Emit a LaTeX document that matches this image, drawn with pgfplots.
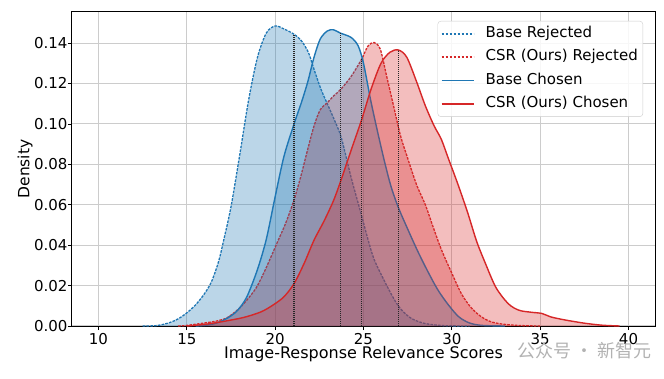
\documentclass[border=0pt]{standalone}
\usepackage{pgfplots}
\pgfplotsset{compat=1.18}
\usepackage{pgfplotstable}
\usepackage{fontspec}
\setmainfont{DejaVu Sans}
\newfontfamily\cjk{Noto Sans CJK SC}
\definecolor{tabblue}{HTML}{1F77B4}
\definecolor{tabred}{HTML}{D62728}

% Base Rejected
\pgfplotstableread{
x y
12.5 0
13.3 0.0002
14.0 0.0016
14.5 0.0035
15.0 0.0065
15.5 0.0105
16.0 0.016
16.4 0.022
16.8 0.032
17.1 0.043
17.5 0.059
18.0 0.085
18.5 0.112
19.0 0.133
19.5 0.145
20.0 0.1485
20.5 0.147
21.07 0.1444
21.5 0.141
21.9 0.135
22.2 0.127
22.6 0.117
23.0 0.109
23.4 0.101
23.75 0.093
24.3 0.0735
24.85 0.056
25.25 0.043
25.6 0.033
26.2 0.022
26.75 0.013
27.15 0.008
27.7 0.0038
28.45 0.0013
29.5 0.0002
31.0 0
}\brtable

% CSR Rejected
\pgfplotstableread{
x y
14.5 0
15.0 0.0003
16.0 0.0015
16.7 0.0025
17.3 0.0042
18.0 0.009
18.6 0.015
19.0 0.020
19.5 0.029
20.1 0.041
20.6 0.051
21.07 0.0625
21.45 0.074
21.83 0.087
22.2 0.099
22.55 0.107
22.95 0.1105
23.3 0.1138
23.7 0.117
24.3 0.1235
24.89 0.132
25.25 0.1385
25.6 0.1403
25.95 0.137
26.3 0.124
26.7 0.109
27.1 0.094
27.5 0.083
28.0 0.070
28.5 0.060
28.9 0.050
29.4 0.038
29.98 0.0265
30.54 0.016
31.1 0.009
31.68 0.0045
32.25 0.002
33.0 0.0008
34.0 0.0002
35.0 0
}\crtable

% Base Chosen
\pgfplotstableread{
x y
15.5 0
16.2 0.0005
16.7 0.0015
17.1 0.003
17.5 0.005
17.9 0.008
18.4 0.0145
19.0 0.028
19.5 0.043
20.0 0.064
20.5 0.084
21.07 0.100
21.5 0.111
21.85 0.121
22.2 0.133
22.55 0.142
22.95 0.146
23.3 0.1466
23.68 0.145
24.3 0.1428
24.7 0.1386
25.0 0.130
25.4 0.112
25.8 0.096
26.2 0.081
26.56 0.069
26.98 0.0585
27.5 0.048
28.07 0.037
28.64 0.027
29.2 0.018
29.8 0.0105
30.4 0.0045
31.0 0.0015
31.7 0.0003
33.0 0
}\bctable

% CSR Chosen
\pgfplotstableread{
x y
15.0 0
16.0 0.0008
16.9 0.002
18.2 0.0042
19.2 0.007
19.9 0.0105
20.5 0.0145
21.07 0.021
21.64 0.031
22.2 0.0425
22.77 0.052
23.3 0.062
23.7 0.0715
24.3 0.087
24.89 0.102
25.42 0.117
25.99 0.130
26.5 0.1355
26.98 0.1366
27.45 0.133
28.0 0.121
28.5 0.109
29.0 0.099
29.4 0.0925
29.8 0.083
30.35 0.070
30.9 0.056
31.4 0.042
31.9 0.031
32.5 0.019
33.2 0.011
33.8 0.0078
34.5 0.0068
35.1 0.0062
35.6 0.0045
36.4 0.003
37.5 0.0014
38.5 0.0004
39.5 0
}\cctable

\begin{document}
\begin{tikzpicture}
\path[use as bounding box] (0pt,0pt) rectangle (664pt,378pt);
\begin{axis}[
  at={(72pt,52pt)}, anchor=south west,
  scale only axis, width=583pt, height=314pt,
  xmin=8.5, xmax=41.5, ymin=0, ymax=0.1554,
  xtick={10,15,20,25,30,35,40},
  ytick={0,0.02,0.04,0.06,0.08,0.10,0.12,0.14},
  /pgf/number format/assume math mode=true,
  yticklabel style={/pgf/number format/.cd, fixed, fixed zerofill, precision=2, /tikz/.cd, xshift=3pt},
  scaled y ticks=false,
  tick label style={font=\fontsize{15}{18}\selectfont},
  xlabel={Image-Response Relevance Scores},
  ylabel={Density},
  xlabel style={font=\fontsize{16}{19}\selectfont, at={(axis description cs:0.5,-0.105)}, anchor=base},
  ylabel style={font=\fontsize{15.5}{18}\selectfont, at={(axis description cs:-0.0806,0.5)}, anchor=center},
  grid=major,
  major grid style={color=black!20, line width=1.1pt},
  axis line style={black, line width=1pt},
  tick align=outside, xtick pos=bottom, ytick pos=left,
  major tick length=4pt,
  tick style={black, line width=0.8pt},
  legend cell align=left,
  legend image code/.code={\draw[#1] (0pt,0pt) -- (32pt,0pt);},
  legend style={at={(axis description cs:1,1)}, anchor=north east,
    xshift=-12pt, yshift=-9pt,
    font=\fontsize{15}{18}\selectfont,
    draw=black!20, rounded corners=3pt, fill=white, fill opacity=0.85, text opacity=1,
    inner xsep=3pt, inner ysep=3.5pt, row sep=4.8pt,
    /tikz/every odd column/.append style={column sep=9pt},
    nodes={inner ysep=2pt, text height=11pt, text depth=3.5pt}},
]
% Base Rejected
\addplot[draw=none, fill=tabblue, fill opacity=0.3, smooth, forget plot] table {\brtable} \closedcycle;
\addplot[draw=tabblue, fill=none, line width=1.3pt, dash pattern=on 2.6pt off 1.2pt, smooth, forget plot] table {\brtable};
\addlegendimage{draw=tabblue, line width=1.8pt, dash pattern=on 2.6pt off 1.4pt}
\addlegendentry{Base Rejected}
% CSR Rejected
\addplot[draw=none, fill=tabred, fill opacity=0.3, smooth, forget plot] table {\crtable} \closedcycle;
\addplot[draw=tabred, fill=none, line width=1.3pt, dash pattern=on 2.6pt off 1.2pt, smooth, forget plot] table {\crtable};
\addlegendimage{draw=tabred, line width=1.8pt, dash pattern=on 2.6pt off 1.4pt}
\addlegendentry{CSR (Ours) Rejected}
% Base Chosen
\addplot[draw=none, fill=tabblue, fill opacity=0.3, smooth, forget plot] table {\bctable} \closedcycle;
\addplot[draw=tabblue, line width=1.4pt, smooth, forget plot] table {\bctable};
\addlegendimage{draw=tabblue, line width=1.8pt}
\addlegendentry{Base Chosen}
% CSR Chosen
\addplot[draw=none, fill=tabred, fill opacity=0.3, smooth, forget plot] table {\cctable} \closedcycle;
\addplot[draw=tabred, line width=1.4pt, smooth, forget plot] table {\cctable};
\addlegendimage{draw=tabred, line width=1.8pt}
\addlegendentry{CSR (Ours) Chosen}
% mean lines
\addplot[black!85, line width=1.2pt, dash pattern=on 1pt off 1pt, forget plot] coordinates {(21.07,0) (21.07,0.1444)};
\addplot[black!85, line width=1.2pt, dash pattern=on 1pt off 1pt, forget plot] coordinates {(23.68,0) (23.68,0.145)};
\addplot[black!85, line width=1.2pt, dash pattern=on 1pt off 1pt, forget plot] coordinates {(24.89,0) (24.89,0.132)};
\addplot[black!85, line width=1.2pt, dash pattern=on 1pt off 1pt, forget plot] coordinates {(26.98,0) (26.98,0.1366)};
\end{axis}
\node[anchor=west, text=black!30, font=\cjk\fontsize{18}{20}\selectfont] at (514pt,27pt) {公众号 · 新智元};
\end{tikzpicture}
\end{document}
